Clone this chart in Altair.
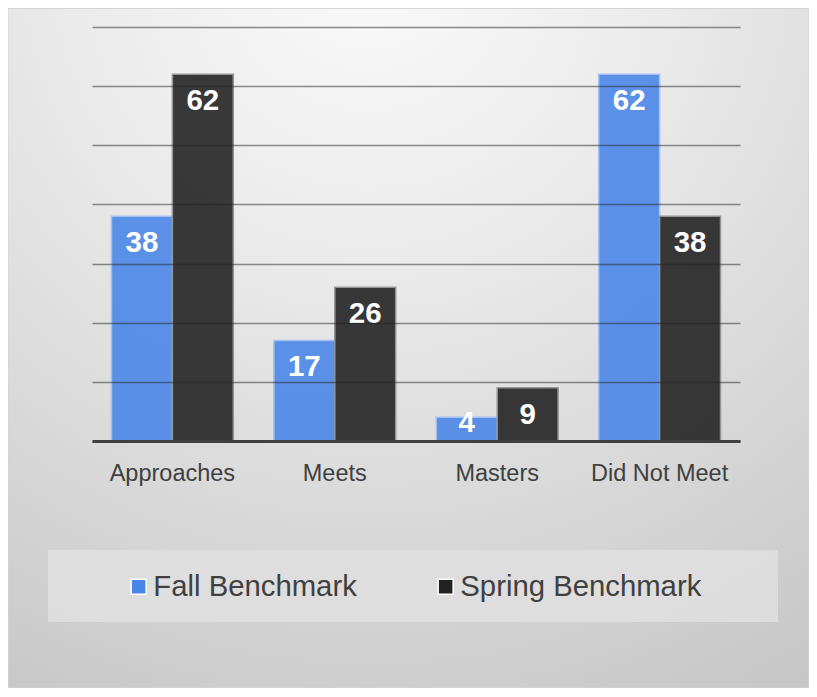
import altair as alt
import pandas as pd

categories = ["Approaches", "Meets", "Masters", "Did Not Meet"]
series_names = ["Fall Benchmark", "Spring Benchmark"]
fall_values = [38, 17, 4, 62]
spring_values = [62, 26, 9, 38]
y_ticks = [0, 10, 20, 30, 40, 50, 60, 70]

rows = []
for c, f, s in zip(categories, fall_values, spring_values):
    rows.append({"category": c, "series": series_names[0], "value": f})
    rows.append({"category": c, "series": series_names[1], "value": s})
df = pd.DataFrame(rows)

W, H = 648, 414
PAD = {"left": 84, "top": 19, "right": 69, "bottom": 247}

one = alt.Data(values=[{}])

bg = alt.Chart(one).mark_rect(
    fill=alt.RadialGradient(
        gradient="radial",
        x1=0.45, y1=0.02, r1=0.0,
        x2=0.45, y2=0.02, r2=1.05,
        stops=[
            alt.GradientStop(offset=0.0, color="#fafafa"),
            alt.GradientStop(offset=0.35, color="#ebebeb"),
            alt.GradientStop(offset=0.7, color="#d7d7d7"),
            alt.GradientStop(offset=1.0, color="#c6c6c6"),
        ],
    ),
    stroke="#d4d4d4",
    strokeWidth=1,
).encode(
    x=alt.value(-PAD["left"]), x2=alt.value(W + PAD["right"]),
    y=alt.value(-PAD["top"] + 0.5), y2=alt.value(H + PAD["bottom"]),
)

legend_box = alt.Chart(one).mark_rect(fill="#dfdfdf", opacity=0.9).encode(
    x=alt.value(-44), x2=alt.value(686),
    y=alt.value(523), y2=alt.value(595),
)

color_scale = alt.Scale(domain=series_names, range=["#4a86e8", "#222222"])

base = alt.Chart(df).encode(
    x=alt.X(
        "category:N",
        sort=categories,
        scale=alt.Scale(paddingInner=0.25, paddingOuter=0.12),
        axis=alt.Axis(
            title=None, labelAngle=0, labelFontSize=23.5, labelFont="Liberation Sans",
            labelColor="#404040", domainColor="#404040", domainWidth=3,
            ticks=False, tickSize=0, labelPadding=39, labelBaseline="alphabetic",
            grid=False, zindex=1,
        ),
    ),
    xOffset=alt.XOffset("series:N", sort=series_names),
)

bars = base.mark_bar(opacity=0.89, strokeWidth=1.5).encode(
    y=alt.Y(
        "value:Q",
        scale=alt.Scale(domain=[0, 70], nice=False),
        axis=alt.Axis(
            title=None, labels=False, ticks=False, domain=False, grid=True,
            values=y_ticks, gridColor="#222222", gridOpacity=0.5, gridWidth=1.3,
            zindex=1,
        ),
    ),
    color=alt.Color(
        "series:N", scale=color_scale, sort=series_names,
        legend=alt.Legend(
            orient="none", legendX=32, legendY=545, direction="horizontal",
            title=None, symbolType="square", symbolSize=225,
            symbolStrokeColor="white", symbolStrokeWidth=1.5, symbolOpacity=1,
            labelFontSize=29.3, labelFont="Liberation Sans", labelColor="#404040",
            labelOffset=0, columnPadding=74, padding=0, labelLimit=400,
        ),
    ),
    stroke=alt.condition(
        "datum.series == 'Fall Benchmark'", alt.value("#9dbdf3"), alt.value("#8c8c8c")
    ),
)

labels = base.transform_calculate(
    labelV="max(datum.value, 7.6)"
).mark_text(
    color="white", fontWeight="bold", fontSize=29.5, font="Liberation Sans",
    baseline="alphabetic", dy=36, align="center",
).encode(
    y=alt.Y("labelV:Q"),
    text=alt.Text("value:Q"),
)

chart = alt.layer(bg, legend_box, bars, labels).properties(
    width=W, height=H,
    autosize=alt.AutoSizeParams(type="none"),
    padding=PAD,
    background="#ffffff",
).configure_view(stroke=None)

chart.save("out.html", embed_options={"renderer": "svg", "actions": False})
